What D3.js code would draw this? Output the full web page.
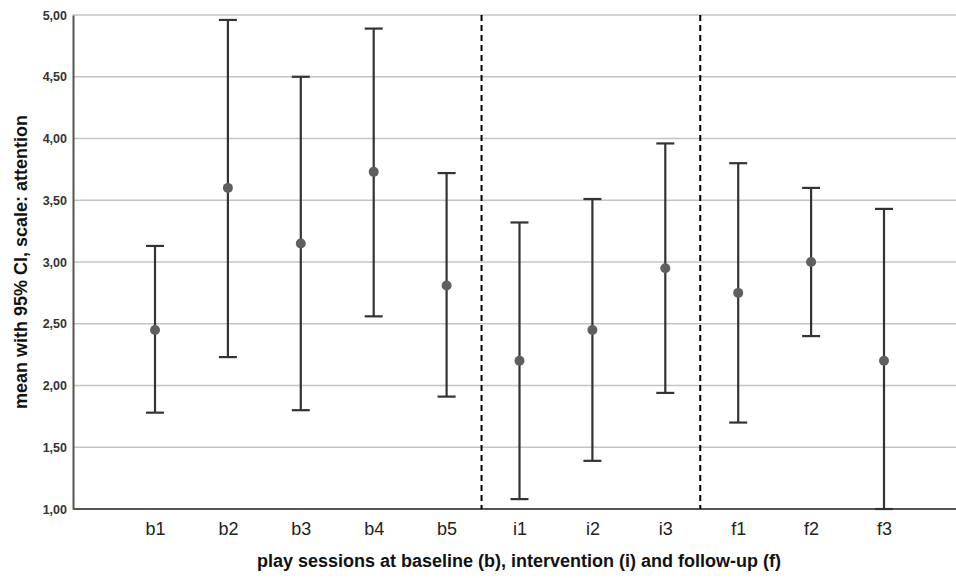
<!DOCTYPE html>
<html>
<head>
<meta charset="utf-8">
<script src="https://cdn.jsdelivr.net/npm/d3@7"></script>
<style>
  body { margin: 0; background: #fff; }
  svg { display: block; font-family: "Liberation Sans", Arial, sans-serif; }
</style>
</head>
<body>
<svg id="chart" width="956" height="578"></svg>
<script>
// sessions and 95% CI values
var sessions = ["b1", "b2", "b3", "b4", "b5", "i1", "i2", "i3", "f1", "f2", "f3"];
var means    = [2.45, 3.60, 3.15, 3.73, 2.81, 2.20, 2.45, 2.95, 2.75, 3.00, 2.20];
var lower    = [1.78, 2.23, 1.80, 2.56, 1.91, 1.08, 1.39, 1.94, 1.70, 2.40, 1.00];
var upper    = [3.13, 4.96, 4.50, 4.89, 3.72, 3.32, 3.51, 3.96, 3.80, 3.60, 3.43];
var yTicks   = [1, 1.5, 2, 2.5, 3, 3.5, 4, 4.5, 5];
var phaseBreaks = [["b5", "i1"], ["i3", "f1"]];

var svg = d3.select("#chart");
// note: "top" is taken by window.top, so use plot* names
var plotL = 73, plotR = 956, plotT = 15, plotB = 509;

var x = d3.scalePoint().domain(sessions).range([155, 884]);
var y = d3.scaleLinear().domain([1, 5]).range([plotB, plotT]);

var fmt = function(d) { return d3.format(".2f")(d).replace(".", ","); };

// gridlines
svg.append("g").selectAll("line")
    .data(yTicks.filter(function(d) { return d > 1; }))
    .join("line")
    .attr("x1", plotL).attr("x2", plotR)
    .attr("y1", function(d) { return y(d); })
    .attr("y2", function(d) { return y(d); })
    .attr("stroke", "#c4c4c4")
    .attr("stroke-width", 1.5);

// y axis
var yAxis = svg.append("g")
    .attr("transform", "translate(" + plotL + ",0)")
    .call(d3.axisLeft(y).tickValues(yTicks).tickFormat(fmt).tickSize(0).tickPadding(6));
yAxis.select(".domain").attr("stroke", "#555").attr("stroke-width", 2);
yAxis.selectAll("text")
    .attr("font-size", 12.5).attr("font-weight", "bold").attr("fill", "#333");

// x axis
var xAxis = svg.append("g")
    .attr("transform", "translate(0," + plotB + ")")
    .call(d3.axisBottom(x).tickSize(0).tickPadding(13));
xAxis.select(".domain")
    .attr("d", "M" + plotL + ",0H" + plotR)
    .attr("stroke", "#555").attr("stroke-width", 2);
xAxis.selectAll("text")
    .attr("font-size", 18).attr("fill", "#222");

// phase separators
svg.append("g").selectAll("line")
    .data(phaseBreaks)
    .join("line")
    .attr("x1", function(d) { return (x(d[0]) + x(d[1])) / 2 - 1.5; })
    .attr("x2", function(d) { return (x(d[0]) + x(d[1])) / 2 - 1.5; })
    .attr("y1", plotT).attr("y2", plotB)
    .attr("stroke", "#000")
    .attr("stroke-width", 2)
    .attr("stroke-dasharray", "6,4");

// error bars
var rows = sessions.map(function(s, i) {
    return { s: s, m: means[i], lo: lower[i], hi: upper[i] };
});
var bars = svg.append("g").selectAll("g")
    .data(rows)
    .join("g")
    .attr("stroke", "#333")
    .attr("stroke-width", 2.2);
bars.append("line")
    .attr("x1", function(d) { return x(d.s); }).attr("x2", function(d) { return x(d.s); })
    .attr("y1", function(d) { return y(d.lo); }).attr("y2", function(d) { return y(d.hi); });
bars.append("line")
    .attr("x1", function(d) { return x(d.s) - 9; }).attr("x2", function(d) { return x(d.s) + 9; })
    .attr("y1", function(d) { return y(d.hi); }).attr("y2", function(d) { return y(d.hi); });
bars.append("line")
    .attr("x1", function(d) { return x(d.s) - 9; }).attr("x2", function(d) { return x(d.s) + 9; })
    .attr("y1", function(d) { return y(d.lo); }).attr("y2", function(d) { return y(d.lo); });

svg.append("g").selectAll("circle")
    .data(rows)
    .join("circle")
    .attr("cx", function(d) { return x(d.s); })
    .attr("cy", function(d) { return y(d.m); })
    .attr("r", 5)
    .attr("fill", "#5f5f5f");

// axis titles
svg.append("text")
    .attr("x", 519).attr("y", 567)
    .attr("text-anchor", "middle")
    .attr("font-size", 18).attr("font-weight", "bold").attr("fill", "#111")
    .text("play sessions at baseline (b), intervention (i) and follow-up (f)");

svg.append("text")
    .attr("transform", "translate(27," + (plotT + plotB) / 2 + ") rotate(-90)")
    .attr("text-anchor", "middle")
    .attr("font-size", 18).attr("font-weight", "bold").attr("fill", "#111")
    .text("mean with 95% CI, scale: attention");
</script>
</body>
</html>
